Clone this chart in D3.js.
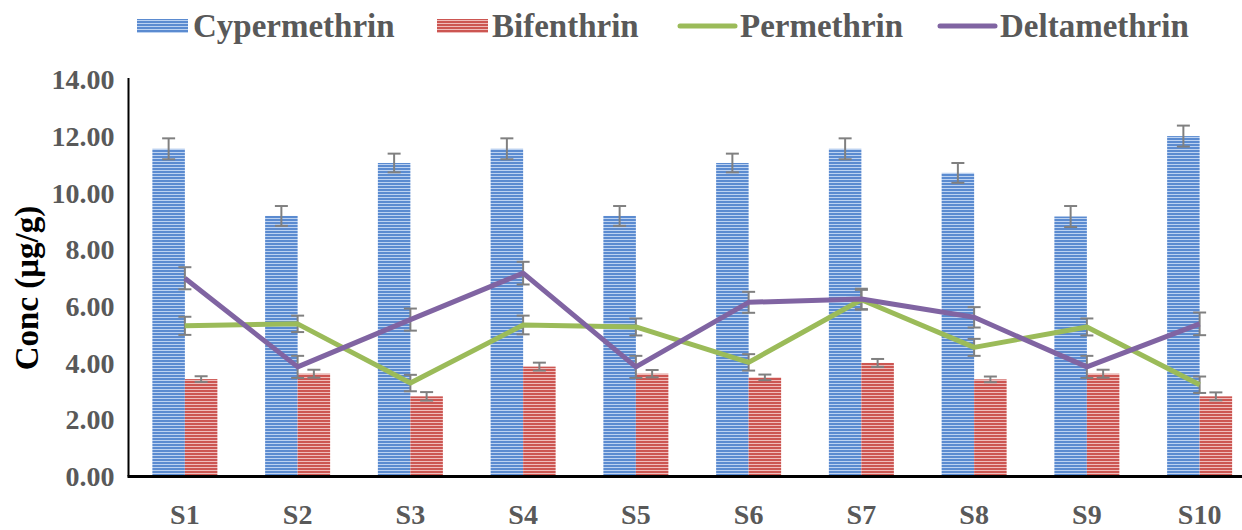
<!DOCTYPE html>
<html>
<head>
<meta charset="utf-8">
<script src="https://cdnjs.cloudflare.com/ajax/libs/d3/7.8.5/d3.min.js"></script>
<style>
  html, body { margin: 0; padding: 0; background: #fff; }
  svg { display: block; }
</style>
</head>
<body>
<svg id="chart" width="1242" height="530"></svg>
<script>
const categories = ["S1","S2","S3","S4","S5","S6","S7","S8","S9","S10"];
const cypermethrin = [11.57, 9.20, 11.07, 11.57, 9.20, 11.07, 11.57, 10.72, 9.18, 12.02];
const cypermethrinErr = [0.37, 0.35, 0.33, 0.37, 0.35, 0.33, 0.37, 0.35, 0.37, 0.37];
const bifenthrin = [3.44, 3.63, 2.83, 3.88, 3.63, 3.50, 4.01, 3.43, 3.63, 2.83];
const bifenthrinErr = [0.1, 0.14, 0.15, 0.14, 0.13, 0.1, 0.14, 0.1, 0.14, 0.14];
const permethrin = [5.32, 5.39, 3.30, 5.35, 5.28, 4.03, 6.24, 4.56, 5.28, 3.24];
const permethrinErr = [0.32, 0.29, 0.29, 0.33, 0.3, 0.29, 0.35, 0.3, 0.3, 0.29];
const deltamethrin = [7.00, 3.87, 5.54, 7.18, 3.87, 6.15, 6.27, 5.62, 3.87, 5.39];
const deltamethrinErr = [0.39, 0.39, 0.39, 0.4, 0.39, 0.37, 0.36, 0.36, 0.39, 0.4];
const yTicks = [0, 2, 4, 6, 8, 10, 12, 14];
const seriesNames = ["Cypermethrin", "Bifenthrin", "Permethrin", "Deltamethrin"];

(function () {
const svg = d3.select("#chart");
const FONT = '"Liberation Serif", "Times New Roman", serif';
function serif(sel, size, color) {
  return sel.style("font-family", FONT).style("font-weight", "bold")
    .style("font-size", size + "px").attr("fill", color);
}

const defs = svg.append("defs");
function stripe(id, base, light) {
  const p = defs.append("pattern").attr("id", id).attr("patternUnits", "userSpaceOnUse")
    .attr("width", 6).attr("height", 3);
  p.append("rect").attr("width", 6).attr("height", 3).attr("fill", base);
  p.append("rect").attr("y", 2).attr("width", 6).attr("height", 1).attr("fill", light);
}
stripe("blueStripe", "#5b8bd0", "#bcd2f1");
stripe("redStripe", "#cc5652", "#efbcbb");

const colors = {
  Cypermethrin: "url(#blueStripe)",
  Bifenthrin: "url(#redStripe)",
  Permethrin: "#9bbb59",
  Deltamethrin: "#8064a2"
};

const mLeft = 128.5, mRight = 1256, mTop = 80, mBottom = 476.5;

const x = d3.scaleBand().domain(categories).range([mLeft, mRight]).paddingInner(0).paddingOuter(0);
const bw = x.bandwidth();
const barW = 32.5;
const x1 = d3.scaleBand().domain(["Cypermethrin", "Bifenthrin"])
  .range([bw / 2 - barW, bw / 2 + barW]).padding(0);
const y = d3.scaleLinear().domain([0, 14]).range([mBottom, mTop]);

const yAxis = d3.axisLeft(y).tickValues(yTicks).tickFormat(d3.format(".2f")).tickSize(0).tickPadding(14);
const gy = svg.append("g").attr("transform", `translate(${mLeft},0)`).call(yAxis);
gy.select(".domain").remove();
serif(gy.selectAll("text"), 28, "#595959");

svg.append("line").attr("x1", mLeft).attr("x2", mLeft).attr("y1", mTop - 2).attr("y2", mBottom)
  .attr("stroke", "#000").attr("stroke-width", 2);

const barData = [];
categories.forEach((c, i) => {
  barData.push({ cat: c, key: "Cypermethrin", v: cypermethrin[i], e: cypermethrinErr[i] });
  barData.push({ cat: c, key: "Bifenthrin", v: bifenthrin[i], e: bifenthrinErr[i] });
});
svg.append("g").selectAll("rect").data(barData).join("rect")
  .attr("x", d => x(d.cat) + x1(d.key))
  .attr("y", d => y(d.v))
  .attr("width", x1.bandwidth())
  .attr("height", d => y(0) - y(d.v))
  .attr("fill", d => colors[d.key]);

function errBars(data, xf) {
  const g = svg.append("g").attr("stroke", "#808080").attr("stroke-width", 2).attr("fill", "none");
  data.forEach(d => {
    const cx = xf(d);
    g.append("line").attr("x1", cx).attr("x2", cx).attr("y1", y(d.v + d.e)).attr("y2", y(d.v - d.e));
    g.append("line").attr("x1", cx - 6.5).attr("x2", cx + 6.5).attr("y1", y(d.v + d.e)).attr("y2", y(d.v + d.e));
    g.append("line").attr("x1", cx - 6.5).attr("x2", cx + 6.5).attr("y1", y(d.v - d.e)).attr("y2", y(d.v - d.e));
  });
}
errBars(barData, d => x(d.cat) + x1(d.key) + x1.bandwidth() / 2);

const permData = categories.map((c, i) => ({ cat: c, v: permethrin[i], e: permethrinErr[i] }));
const deltData = categories.map((c, i) => ({ cat: c, v: deltamethrin[i], e: deltamethrinErr[i] }));
errBars(permData, d => x(d.cat) + bw / 2);
errBars(deltData, d => x(d.cat) + bw / 2);

const line = d3.line().x(d => x(d.cat) + bw / 2).y(d => y(d.v));
svg.append("path").datum(permData).attr("d", line).attr("fill", "none")
  .attr("stroke", colors.Permethrin).attr("stroke-width", 5).attr("stroke-linejoin", "round");
svg.append("path").datum(deltData).attr("d", line).attr("fill", "none")
  .attr("stroke", colors.Deltamethrin).attr("stroke-width", 5).attr("stroke-linejoin", "round");

svg.append("line").attr("x1", mLeft - 1).attr("x2", 1242).attr("y1", mBottom).attr("y2", mBottom)
  .attr("stroke", "#000").attr("stroke-width", 3);

const xAxis = d3.axisBottom(x).tickSize(0).tickPadding(28);
const gx = svg.append("g").attr("transform", `translate(0,${mBottom})`).call(xAxis);
gx.select(".domain").remove();
serif(gx.selectAll("text"), 28, "#595959");

serif(svg.append("text").attr("transform", "translate(38,288) rotate(-90)")
  .attr("text-anchor", "middle"), 33, "#000").text("Conc (μg/g)");

const legendPos = [
  { sx: 137, tx: 193 },
  { sx: 437, tx: 492 },
  { sx: 680, tx: 740 },
  { sx: 940, tx: 1000 }
];
const lg = svg.append("g");
seriesNames.forEach((name, i) => {
  const p = legendPos[i];
  if (i < 2) {
    lg.append("rect").attr("x", p.sx).attr("y", 19).attr("width", 51).attr("height", 14)
      .attr("fill", colors[name]);
  } else {
    lg.append("line").attr("x1", p.sx).attr("x2", p.sx + 55).attr("y1", 26).attr("y2", 26)
      .attr("stroke", colors[name]).attr("stroke-width", 5).attr("stroke-linecap", "round");
  }
  serif(lg.append("text").attr("x", p.tx).attr("y", 37), 33, "#595959").text(name);
});
})();
</script>
</body>
</html>
